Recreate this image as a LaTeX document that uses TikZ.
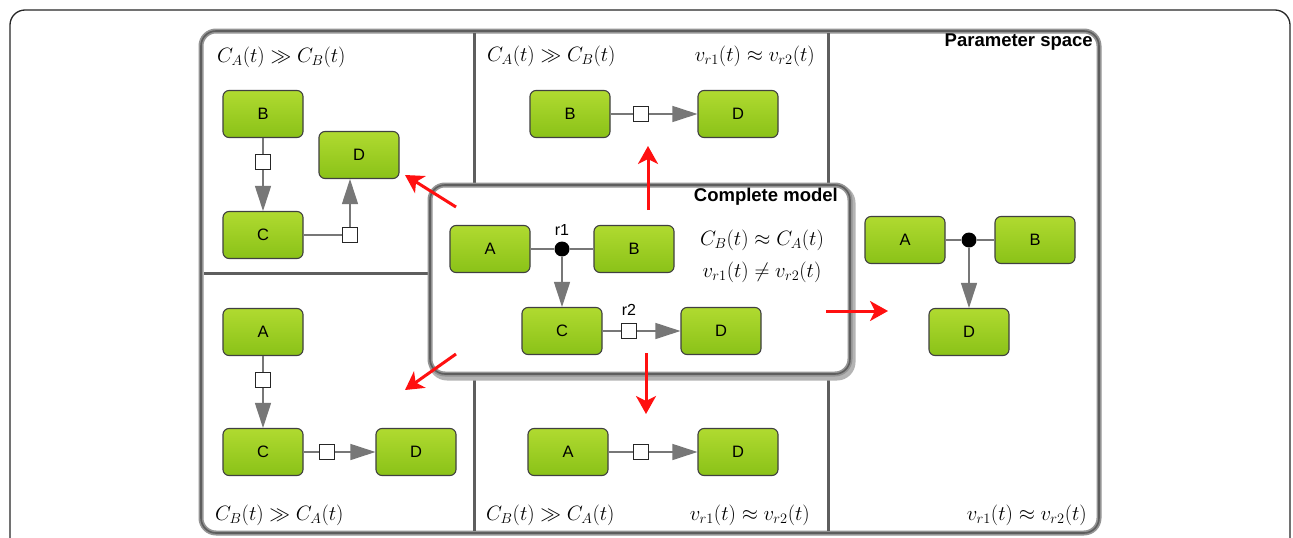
\documentclass[tikz,border=0pt]{standalone}
\usepackage{fontspec}
\newfontfamily\boxfont{Liberation Sans}
\usetikzlibrary{arrows.meta}
\definecolor{gtop}{HTML}{B0DA30}
\definecolor{gbot}{HTML}{8AC218}
\definecolor{frameg}{HTML}{949494}
\definecolor{framed}{HTML}{5E5E5E}
\definecolor{conn}{HTML}{777777}
\definecolor{arrred}{HTML}{FF1010}
\tikzset{
 species/.style={draw=black!75, line width=1.1pt, rounded corners=6pt, minimum width=80pt, minimum height=47pt, top color=gtop, bottom color=gbot, font=\boxfont\fontsize{16.5}{16.5}\selectfont, inner sep=0pt},
 reac/.style={draw=black!85, fill=white, line width=1pt, minimum size=15pt, inner sep=0pt},
 dotnode/.style={circle, fill=black, minimum size=15pt, inner sep=0pt},
 link/.style={draw=conn, line width=1.2pt},
 flow/.style={link, -{Triangle[length=25pt,width=16pt]}},
 redarrow/.style={draw=arrred, line width=3pt, -{Stealth[length=18pt,width=20pt,inset=5pt]}},
 mathlab/.style={font=\fontsize{20.74}{24}\selectfont, inner sep=0pt},
 titlelab/.style={font=\boxfont\bfseries\fontsize{18.5}{21}\selectfont, inner sep=0pt},
 rlab/.style={font=\boxfont\fontsize{16}{18}\selectfont, inner sep=0pt},
 panelline/.style={line width=5pt, draw=frameg},
 panelcore/.style={line width=1.6pt, draw=framed},
 divider/.style={line width=3pt, draw=framed}
}
\begin{document}
\begin{tikzpicture}[x=1pt,y=-1pt]
\useasboundingbox (0,0) rectangle (1293,538);
% outer thin frame
\draw[line width=1.3pt, black!85, rounded corners=15pt] (10,560) -- (10,10) -- (1290,10) -- (1290,560);
% parameter space panel
\draw[panelline, fill=white, rounded corners=15pt] (201,31) rectangle (1099,533);
\draw[panelcore, rounded corners=15pt] (201,31) rectangle (1099,533);
% dividers
\draw[divider] (474,33) -- (474,531);
\draw[divider] (828,33) -- (828,531);
\draw[divider] (204,273) -- (430,273);
% complete model box
\draw[line width=7pt, draw=frameg!70, rounded corners=15pt] (432,188) rectangle (852,377);
\draw[panelline, fill=white, rounded corners=15pt] (430,185) rectangle (850,374);
\draw[panelcore, rounded corners=15pt] (430,185) rectangle (850,374);

% ---------- top-left panel
\node[mathlab, anchor=west] (tlLab) at (217,57) {$C_A(t) \gg C_B(t)$};
\node[species] (tlB) at (263,114) {B};
\node[species] (tlC) at (263,235) {C};
\node[species] (tlD) at (359,155) {D};
\node[reac] (tlS1) at (263,162) {};
\node[reac] (tlS2) at (350,235) {};
\draw[link] (tlB) -- (tlS1);
\draw[flow] (tlS1) -- (tlC);
\draw[link] (tlC) -- (tlS2);
\draw[flow] (tlS2) -- (tlS2 |- tlD.south);

% ---------- top-middle panel
\node[mathlab, anchor=west] (tmLab1) at (487,56) {$C_A(t) \gg C_B(t)$};
\node[mathlab, anchor=east] (tmLab2) at (815,56) {$v_{r1}(t) \approx v_{r2}(t)$};
\node[species] (tmB) at (570,114) {B};
\node[species] (tmD) at (738,114) {D};
\node[reac] (tmS) at (641,114) {};
\draw[link] (tmB) -- (tmS);
\draw[flow] (tmS) -- (tmD);

% ---------- complete model
\node[titlelab, anchor=east] (cmTitle) at (838,197) {Complete model};
\node[species] (cmA) at (490,249) {A};
\node[species] (cmB) at (634,249) {B};
\node[dotnode] (cmR1) at (562,249) {};
\node[rlab] (cmR1lab) at (562,230) {r1};
\node[species] (cmC) at (562,331) {C};
\node[species] (cmD) at (721,331) {D};
\node[reac] (cmR2) at (629,331) {};
\node[rlab] (cmR2lab) at (629,310) {r2};
\draw[link] (cmA) -- (cmR1);
\draw[link] (cmR1) -- (cmB);
\draw[flow] (cmR1) -- (cmC);
\draw[link] (cmC) -- (cmR2);
\draw[flow] (cmR2) -- (cmD);
\node[mathlab] (cmEq1) at (762,240) {$C_B(t) \approx C_A(t)$};
\node[mathlab] (cmEq2) at (762,272) {$v_{r1}(t) \neq v_{r2}(t)$};

% ---------- right panel
\node[titlelab, anchor=east] (psTitle) at (1093,42) {Parameter space};
\node[species] (rA) at (905,240) {A};
\node[species] (rB) at (1035,240) {B};
\node[dotnode] (rDot) at (969,240) {};
\node[species] (rD) at (969,332) {D};
\draw[link] (rA) -- (rDot);
\draw[link] (rDot) -- (rB);
\draw[flow] (rDot) -- (rD);
\node[mathlab, anchor=east] (rLab) at (1087,515) {$v_{r1}(t) \approx v_{r2}(t)$};

% ---------- bottom-left panel
\node[species] (blA) at (263,332) {A};
\node[species] (blC) at (263,452) {C};
\node[species] (blD) at (416,452) {D};
\node[reac] (blS1) at (263,380) {};
\node[reac] (blS2) at (327,452) {};
\draw[link] (blA) -- (blS1);
\draw[flow] (blS1) -- (blC);
\draw[link] (blC) -- (blS2);
\draw[flow] (blS2) -- (blD);
\node[mathlab, anchor=west] (blLab) at (215,515) {$C_B(t) \gg C_A(t)$};

% ---------- bottom-middle panel
\node[species] (bmA) at (568,452) {A};
\node[species] (bmD) at (738,452) {D};
\node[reac] (bmS) at (641,452) {};
\draw[link] (bmA) -- (bmS);
\draw[flow] (bmS) -- (bmD);
\node[mathlab, anchor=west] (bmLab1) at (486,515) {$C_B(t) \gg C_A(t)$};
\node[mathlab, anchor=east] (bmLab2) at (810,515) {$v_{r1}(t) \approx v_{r2}(t)$};

% ---------- red arrows
\coordinate (a1s) at (456,207); \coordinate (a1e) at (405,175);
\coordinate (a2s) at (648,210); \coordinate (a2e) at (648,146);
\coordinate (a3s) at (826,311); \coordinate (a3e) at (888,311);
\coordinate (a4s) at (646,353); \coordinate (a4e) at (646,414);
\coordinate (a5s) at (456,354); \coordinate (a5e) at (405,390);
\draw[redarrow] (a1s) -- (a1e);
\draw[redarrow] (a2s) -- (a2e);
\draw[redarrow] (a3s) -- (a3e);
\draw[redarrow] (a4s) -- (a4e);
\draw[redarrow] (a5s) -- (a5e);
\end{tikzpicture}
\end{document}
